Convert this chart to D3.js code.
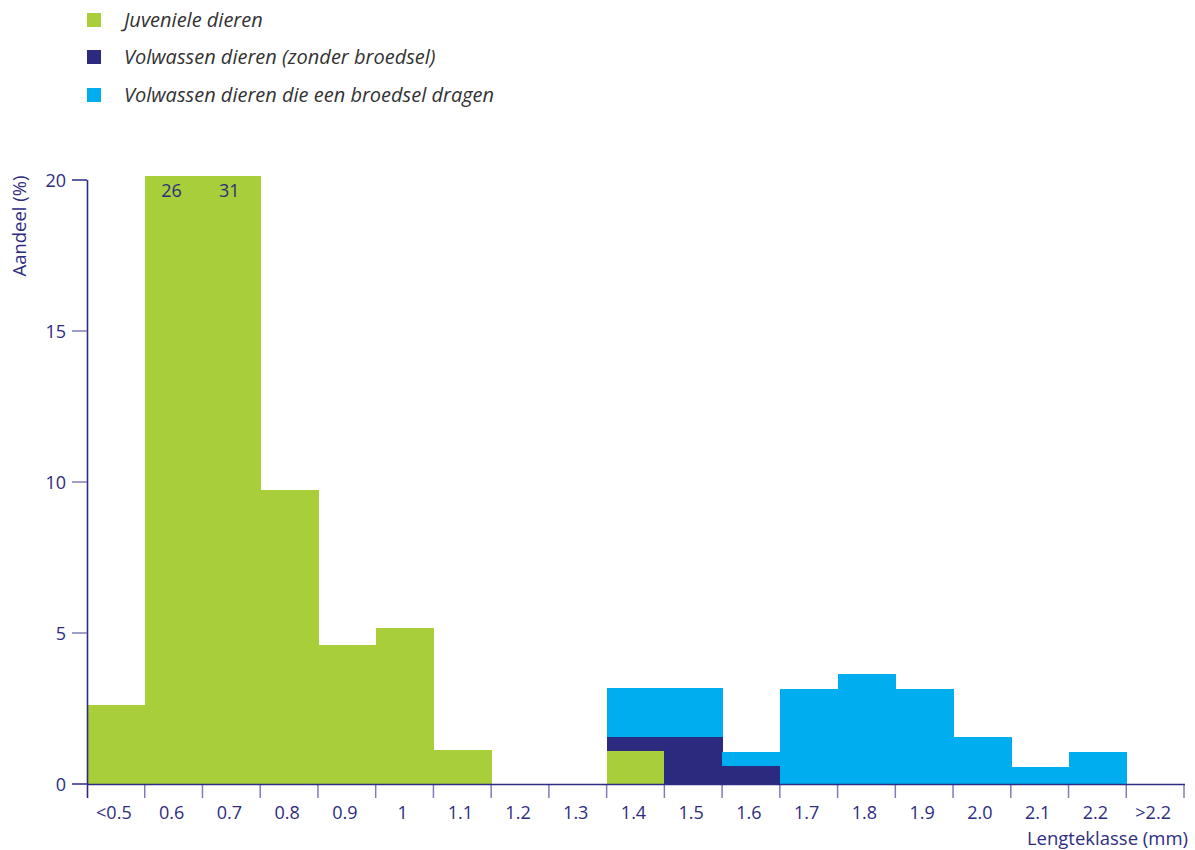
<!DOCTYPE html>
<html>
<head>
<meta charset="utf-8">
<script src="https://cdn.jsdelivr.net/npm/d3@7"></script>
<style>
  html, body { margin: 0; padding: 0; background: #fff; }
  svg { display: block; }
</style>
</head>
<body>
<script>
// ---- data ----
const categories = ["<0.5","0.6","0.7","0.8","0.9","1","1.1","1.2","1.3","1.4","1.5","1.6","1.7","1.8","1.9","2.0","2.1","2.2",">2.2"];
const juveniel  = [2.62, 26, 31, 9.74, 4.60, 5.17, 1.13, 0, 0, 1.09, 0, 0, 0, 0, 0, 0, 0, 0, 0];
const zonderBroedsel = [0, 0, 0, 0, 0, 0, 0, 0, 0, 0.46, 1.56, 0.60, 0, 0, 0, 0, 0, 0, 0];
const metBroedsel    = [0, 0, 0, 0, 0, 0, 0, 0, 0, 1.62, 1.62, 0.46, 3.15, 3.64, 3.15, 1.56, 0.56, 1.06, 0];
const seriesNames = ["Juveniele dieren", "Volwassen dieren (zonder broedsel)", "Volwassen dieren die een broedsel dragen"];
const seriesColors = ["#a8ce3a", "#2b2a7e", "#00aeef"];
const yTicks = [0, 5, 10, 15, 20];
const overflowLabels = [{cat: "0.6", text: "26"}, {cat: "0.7", text: "31"}];

const W = 1195, H = 850;
const navy = "#2e2c80";
const tickCol = "#7f7cb8";
const font = "'Open Sans', sans-serif";

const svg = d3.select("body").append("svg").attr("width", W).attr("height", H);

const x = d3.scaleBand().domain(categories).range([87, 1184]).paddingInner(0).paddingOuter(0);
const y = d3.scaleLinear().domain([0, 20]).range([784, 180]);

const keys = ["j", "z", "m"];
const table = categories.map((c, i) => ({cat: c, j: juveniel[i], z: zonderBroedsel[i], m: metBroedsel[i]}));
const stacked = d3.stack().keys(keys)(table);

svg.append("defs").append("clipPath").attr("id", "plotclip")
  .append("rect").attr("x", 0).attr("y", y(20.13)).attr("width", W).attr("height", y(0) - y(20.13));

const g = svg.append("g").attr("clip-path", "url(#plotclip)").attr("shape-rendering", "crispEdges");
stacked.forEach((s, si) => {
  g.selectAll(null).data(s.filter(d => d[1] - d[0] > 0)).enter().append("rect")
    .attr("x", d => x(d.data.cat))
    .attr("width", x.bandwidth() + 1)
    .attr("y", d => y(d[1]))
    .attr("height", d => y(d[0]) - y(d[1]))
    .attr("fill", seriesColors[si]);
});

// overflow labels
svg.selectAll(null).data(overflowLabels).enter().append("text")
  .attr("x", d => x(d.cat) + x.bandwidth() / 2 - 2)
  .attr("y", 197)
  .attr("text-anchor", "middle")
  .attr("font-family", font).attr("font-size", 18).attr("fill", navy)
  .text(d => d.text);

// x axis ticks (boundaries)
const bounds = categories.map(c => x(c)).concat([x.range()[1]]);
svg.selectAll(null).data(bounds.slice(1)).enter().append("line")
  .attr("x1", d => d).attr("x2", d => d).attr("y1", 784).attr("y2", 798)
  .attr("stroke", tickCol).attr("stroke-width", 1.5);
// x axis line
svg.append("line").attr("x1", 87).attr("x2", x.range()[1] + 1).attr("y1", 784.5).attr("y2", 784.5)
  .attr("stroke", navy).attr("stroke-width", 1.6);
// x labels
svg.selectAll(null).data(categories).enter().append("text")
  .attr("x", d => x(d) + x.bandwidth() / 2 - 2)
  .attr("y", 819)
  .attr("text-anchor", "middle")
  .attr("font-family", font).attr("font-size", 18).attr("fill", navy)
  .text(d => d);

// y axis
svg.append("line").attr("x1", 87.5).attr("x2", 87.5).attr("y1", 180).attr("y2", 798)
  .attr("stroke", navy).attr("stroke-width", 1.6);
svg.selectAll(null).data(yTicks).enter().append("line")
  .attr("x1", 72).attr("x2", 87).attr("y1", d => y(d)).attr("y2", d => y(d))
  .attr("stroke", d => d === 0 || d === 20 ? navy : tickCol).attr("stroke-width", 1.5);
svg.selectAll(null).data(yTicks).enter().append("text")
  .attr("x", 66).attr("y", d => y(d) + 6.5)
  .attr("text-anchor", "end")
  .attr("font-family", font).attr("font-size", 18).attr("fill", navy)
  .text(d => d);

// axis titles
svg.append("text").attr("transform", "translate(26,226) rotate(-90)")
  .attr("text-anchor", "middle")
  .attr("font-family", font).attr("font-size", 18.5).attr("fill", navy)
  .text("Aandeel (%)");
svg.append("text").attr("x", 1188).attr("y", 845)
  .attr("text-anchor", "end")
  .attr("font-family", font).attr("font-size", 18.5).attr("fill", navy)
  .text("Lengteklasse (mm)");

// legend
const legY = [20, 57, 95];
const leg = svg.selectAll(null).data(seriesNames).enter().append("g")
  .attr("transform", (d, i) => `translate(87,${legY[i]})`);
leg.append("rect").attr("x", 0).attr("y", -7).attr("width", 14).attr("height", 14)
  .attr("fill", (d, i) => seriesColors[i]);
leg.append("text").attr("x", 37).attr("y", 7)
  .attr("font-family", font).attr("font-style", "italic").attr("font-size", 20).attr("fill", "#333")
  .text(d => d);
</script>
</body>
</html>
